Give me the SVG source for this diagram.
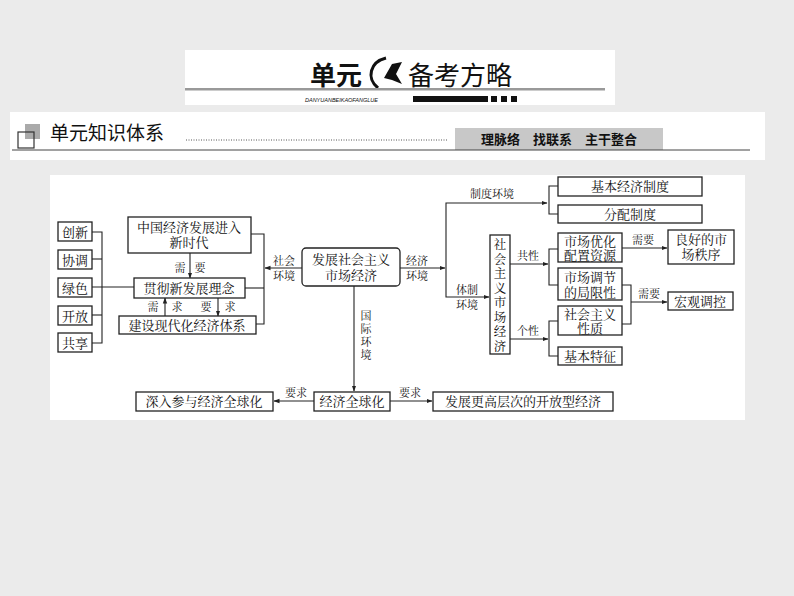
<svg xmlns="http://www.w3.org/2000/svg" width="794" height="596" viewBox="0 0 794 596">
<defs>
<marker id="ah" markerWidth="6" markerHeight="6" refX="5.5" refY="3" orient="auto" markerUnits="userSpaceOnUse"><path d="M0,0.8 L6,3 L0,5.2 Z" fill="#222"/></marker>
</defs>
<style>
text{font-family:"Liberation Serif","Noto Serif CJK SC","Noto Sans CJK SC",serif;fill:#111}
.b{fill:#fff;stroke:#222;stroke-width:1.3}
.t{font-size:13px;text-anchor:middle}
.v{font-size:12.5px;text-anchor:middle}
.s{font-size:11px;text-anchor:middle}
.c line,.c polyline,.c path{stroke:#222;stroke-width:1.1;fill:none}
</style>
<rect width="794" height="596" fill="#ebebeb"/>
<g id="header">
<rect x="185" y="50" width="430" height="55" fill="#fff"/>
<text x="310" y="85" style="font-family:'Noto Sans CJK SC',sans-serif;font-size:26px;font-weight:bold">单元</text>
<path d="M378,88 C366,78 370,62 386,58" stroke="#111" stroke-width="3" fill="none"/>
<path d="M384,78 L392,64 L402,62 L396,74 L402,84 L392,80 Z" fill="#111"/>
<text x="408" y="85" style="font-family:'Noto Sans CJK SC',sans-serif;font-size:26px">备考方略</text>
<rect x="185" y="88" width="420" height="2.5" fill="#999"/>
<text x="305" y="102" style="font-family:'Liberation Sans',sans-serif;font-size:5.5px;font-style:italic">DANYUANBEIKAOFANGLUE</text>
<rect x="413" y="96" width="75" height="6" fill="#111"/>
<rect x="491" y="96" width="6" height="6" fill="#111"/>
<rect x="501" y="96" width="6" height="6" fill="#111"/>
<rect x="511" y="96" width="6" height="6" fill="#111"/>
</g>
<g id="titlebar">
<rect x="10" y="112" width="755" height="48" fill="#fff"/>
<rect x="25" y="124" width="15" height="15" fill="#aaa"/>
<rect x="18" y="132" width="16" height="16" fill="none" stroke="#333" stroke-width="1.2"/>
<text x="50" y="140" style="font-family:'Noto Sans CJK SC',sans-serif;font-size:19px">单元知识体系</text>
<line x1="186" y1="140" x2="448" y2="140" stroke="#555" stroke-dasharray="1,1.5"/>
<rect x="455" y="128" width="208" height="22" fill="#c8c8c8"/>
<text x="559" y="144" text-anchor="middle" style="font-family:'Noto Sans CJK SC',sans-serif;font-size:13px;font-weight:bold">理脉络　找联系　主干整合</text>
<line x1="12" y1="150" x2="750" y2="150" stroke="#444"/>
</g>
<rect x="50" y="175" width="695" height="245" fill="#fff"/>
<g class="c" id="connectors">
<polyline points="92,232 102,232 102,343 92,343"/>
<line x1="92" y1="259" x2="102" y2="259"/><line x1="92" y1="287" x2="134" y2="287"/><line x1="92" y1="315" x2="102" y2="315"/>
<polyline points="251,234 264,234 264,324 256,324"/><line x1="245" y1="288" x2="264" y2="288"/>
<line x1="302" y1="268" x2="265" y2="268" marker-end="url(#ah)"/>
<line x1="190" y1="253" x2="190" y2="278" marker-end="url(#ah)"/>
<line x1="165" y1="316" x2="165" y2="298" marker-end="url(#ah)"/>
<line x1="218" y1="298" x2="218" y2="316" marker-end="url(#ah)"/>
<line x1="400" y1="268" x2="445" y2="268" marker-end="url(#ah)"/>
<polyline points="446,268 446,203 547,203" marker-end="url(#ah)"/>
<polyline points="446,268 446,297 489,297" marker-end="url(#ah)"/>
<polyline points="558,186 549,186 549,214 558,214"/>
<line x1="510" y1="264" x2="548" y2="264" marker-end="url(#ah)"/>
<line x1="510" y1="339" x2="548" y2="339" marker-end="url(#ah)"/>
<polyline points="558,249 549,249 549,285 558,285"/>
<polyline points="558,321 549,321 549,356 558,356"/>
<line x1="622" y1="248" x2="667" y2="248" marker-end="url(#ah)"/>
<polyline points="622,285 631,285 631,324 622,324"/>
<line x1="631" y1="302" x2="667" y2="302" marker-end="url(#ah)"/>
<line x1="354" y1="286" x2="354" y2="391" marker-end="url(#ah)"/>
<line x1="314" y1="401" x2="274" y2="401" marker-end="url(#ah)"/>
<line x1="390" y1="401" x2="432" y2="401" marker-end="url(#ah)"/>
</g>
<g id="labels">
<text class="s" x="180" y="272">需</text><text class="s" x="200" y="272">要</text>
<text class="s" x="153" y="311">需</text><text class="s" x="177" y="311">求</text>
<text class="s" x="206" y="311">要</text><text class="s" x="230" y="311">求</text>
<text class="s" x="284" y="265">社会</text><text class="s" x="284" y="280">环境</text>
<text class="s" x="417" y="265">经济</text><text class="s" x="417" y="280">环境</text>
<text class="s" x="492" y="198">制度环境</text>
<text class="s" x="467" y="294">体制</text><text class="s" x="467" y="309">环境</text>
<text class="s" x="528" y="260">共性</text><text class="s" x="528" y="335">个性</text>
<text class="s" x="643" y="244">需要</text><text class="s" x="649" y="298">需要</text>
<text class="s" x="366" y="320">国</text><text class="s" x="366" y="333">际</text><text class="s" x="366" y="346">环</text><text class="s" x="366" y="359">境</text>
<text class="s" x="296" y="397">要求</text><text class="s" x="410" y="397">要求</text>
</g>
<g id="n-cx"><rect class="b" x="58" y="222" width="34" height="19"/><text class="t" x="75" y="237">创新</text></g>
<g id="n-xt"><rect class="b" x="58" y="250" width="34" height="19"/><text class="t" x="75" y="265">协调</text></g>
<g id="n-ls"><rect class="b" x="58" y="278" width="34" height="19"/><text class="t" x="75" y="293">绿色</text></g>
<g id="n-kf"><rect class="b" x="58" y="306" width="34" height="19"/><text class="t" x="75" y="321">开放</text></g>
<g id="n-gx"><rect class="b" x="58" y="333" width="34" height="19"/><text class="t" x="75" y="348">共享</text></g>
<g id="n-zg"><rect class="b" x="128" y="217" width="123" height="36"/><text class="t" x="189" y="232">中国经济发展进入</text><text class="t" x="189" y="247">新时代</text></g>
<g id="n-gc"><rect class="b" x="134" y="278" width="111" height="20"/><text class="t" x="189" y="293">贯彻新发展理念</text></g>
<g id="n-js"><rect class="b" x="119" y="316" width="137" height="18"/><text class="t" x="187" y="330">建设现代化经济体系</text></g>
<g id="n-fz"><rect class="b" x="302" y="248" width="98" height="38" rx="4"/><text class="t" x="351" y="264">发展社会主义</text><text class="t" x="351" y="280">市场经济</text></g>
<g id="n-jb"><rect class="b" x="558" y="177" width="144" height="19"/><text class="t" x="630" y="191">基本经济制度</text></g>
<g id="n-fp"><rect class="b" x="558" y="205" width="144" height="18"/><text class="t" x="630" y="219">分配制度</text></g>
<g id="n-sh"><rect class="b" x="490" y="235" width="20" height="119"/>
<text class="v" x="500" y="249">社</text><text class="v" x="500" y="263.5">会</text><text class="v" x="500" y="278">主</text><text class="v" x="500" y="292.5">义</text><text class="v" x="500" y="307">市</text><text class="v" x="500" y="321.5">场</text><text class="v" x="500" y="336">经</text><text class="v" x="500" y="350.5">济</text></g>
<g id="n-yh"><rect class="b" x="558" y="233" width="64" height="29"/><text class="t" x="590" y="246">市场优化</text><text class="t" x="590" y="260">配置资源</text></g>
<g id="n-jx"><rect class="b" x="558" y="268" width="64" height="32"/><text class="t" x="590" y="282">市场调节</text><text class="t" x="590" y="297">的局限性</text></g>
<g id="n-xz"><rect class="b" x="558" y="306" width="64" height="29"/><text class="t" x="590" y="319">社会主义</text><text class="t" x="590" y="333">性质</text></g>
<g id="n-tz"><rect class="b" x="558" y="347" width="64" height="18"/><text class="t" x="590" y="361">基本特征</text></g>
<g id="n-lh"><rect class="b" x="668" y="230" width="66" height="34"/><text class="t" x="701" y="244">良好的市</text><text class="t" x="701" y="259">场秩序</text></g>
<g id="n-hg"><rect class="b" x="668" y="292" width="65" height="18"/><text class="t" x="700" y="306">宏观调控</text></g>
<g id="n-qq"><rect class="b" x="314" y="392" width="76" height="19"/><text class="t" x="352" y="406">经济全球化</text></g>
<g id="n-sr"><rect class="b" x="136" y="392" width="137" height="19"/><text class="t" x="204" y="406">深入参与经济全球化</text></g>
<g id="n-gd"><rect class="b" x="433" y="392" width="180" height="19"/><text class="t" x="523" y="406">发展更高层次的开放型经济</text></g>
</svg>
